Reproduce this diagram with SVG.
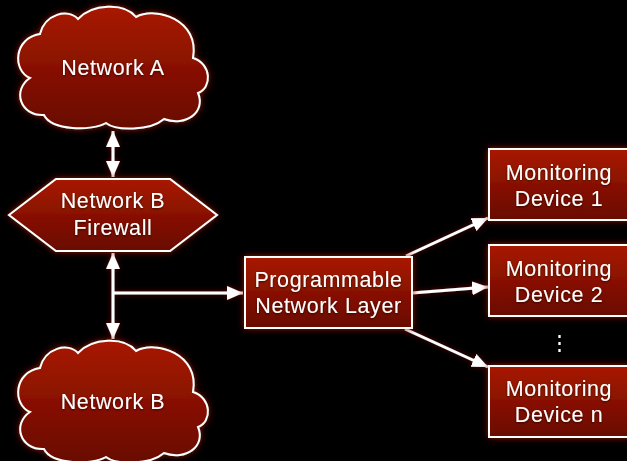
<svg xmlns="http://www.w3.org/2000/svg" width="627" height="461" viewBox="0 0 627 461">
  <defs>
    <linearGradient id="redFill" x1="0" y1="0" x2="0" y2="1">
      <stop offset="0" stop-color="#a81a02"/>
      <stop offset="1" stop-color="#680800"/>
    </linearGradient>
    <filter id="glow" x="-20%" y="-20%" width="140%" height="140%">
      <feDropShadow dx="0" dy="0" stdDeviation="3.5" flood-color="#9a1400" flood-opacity="0.9"/>
    </filter>
    <filter id="lineGlow" x="-20%" y="-20%" width="140%" height="140%">
      <feDropShadow dx="0" dy="0" stdDeviation="2.5" flood-color="#8a1000" flood-opacity="0.8"/>
    </filter>
    <filter id="textShadow" x="-10%" y="-20%" width="120%" height="150%">
      <feDropShadow dx="0" dy="1" stdDeviation="1" flood-color="#000" flood-opacity="0.6"/>
    </filter>
    <marker id="head" viewBox="0 0 16 14" refX="16" refY="7" markerWidth="16" markerHeight="14" markerUnits="userSpaceOnUse" orient="auto-start-reverse">
      <path d="M0,0 L16,7 L0,14 Z" fill="#fff"/>
    </marker>
    <!-- cloud outline, drawn around centre (113, 67) -->
    <path id="cloud" d="M30,78 C12,70 14,38 40,34 C45,14 68,8 78,19 C92,4 124,2 136,17 C156,6 200,20 193,58 C212,64 212,88 198,93 C206,112 186,127 164,119 C150,131 116,131 106,123 C92,131 52,131 44,115 C20,116 12,90 30,78 Z"/>
  </defs>
  <style>
    .shape { fill: url(#redFill); stroke: #fff; stroke-width: 2; filter: url(#glow); }
    .label { font-family: "Liberation Sans", Arial, Helvetica, sans-serif; font-size: 21.5px; letter-spacing: 0.6px; fill: #fff; text-anchor: middle; filter: url(#textShadow); }
    .conn { stroke: #fff; stroke-width: 3; fill: none; }
  </style>

  <rect width="627" height="461" fill="#000"/>

  <!-- connectors -->
  <g id="connectors" filter="url(#lineGlow)">
    <line class="conn" x1="113" y1="131" x2="113" y2="177" marker-start="url(#head)" marker-end="url(#head)"/>
    <line class="conn" x1="113" y1="253" x2="113" y2="339" marker-start="url(#head)" marker-end="url(#head)"/>
    <line class="conn" x1="113" y1="293" x2="243" y2="293" marker-end="url(#head)"/>
    <line class="conn" x1="406" y1="256" x2="488" y2="218" marker-end="url(#head)"/>
    <line class="conn" x1="412" y1="293" x2="488" y2="287" marker-end="url(#head)"/>
    <line class="conn" x1="405" y1="329" x2="488" y2="367" marker-end="url(#head)"/>
  </g>

  <!-- Network A cloud -->
  <g id="network-a">
    <use href="#cloud" class="shape"/>
    <text class="label" x="113" y="75">Network A</text>
  </g>

  <!-- Network B firewall -->
  <g id="firewall">
    <polygon class="shape" points="9,215 56,179 170,179 217,215 170,251 56,251"/>
    <text class="label" x="113" y="208">Network B</text>
    <text class="label" x="113" y="235">Firewall</text>
  </g>

  <!-- Network B cloud -->
  <g id="network-b">
    <use href="#cloud" class="shape" transform="translate(0,334)"/>
    <text class="label" x="113" y="409">Network B</text>
  </g>

  <!-- Programmable network layer -->
  <g id="programmable-layer">
    <rect class="shape" x="245" y="257" width="167" height="71"/>
    <text class="label" x="328.5" y="287">Programmable</text>
    <text class="label" x="328.5" y="313">Network Layer</text>
  </g>

  <!-- Monitoring devices -->
  <g id="device-1">
    <rect class="shape" x="489" y="149" width="140" height="71"/>
    <text class="label" x="559" y="180">Monitoring</text>
    <text class="label" x="559" y="206">Device 1</text>
  </g>
  <g id="device-2">
    <rect class="shape" x="489" y="245" width="140" height="71"/>
    <text class="label" x="559" y="276">Monitoring</text>
    <text class="label" x="559" y="302">Device 2</text>
  </g>
  <g id="ellipsis">
    <text class="label" x="559" y="350" style="font-size:21px;letter-spacing:0">⋮</text>
  </g>
  <g id="device-n">
    <rect class="shape" x="489" y="366" width="140" height="71"/>
    <text class="label" x="559" y="396">Monitoring</text>
    <text class="label" x="559" y="422">Device n</text>
  </g>
</svg>
